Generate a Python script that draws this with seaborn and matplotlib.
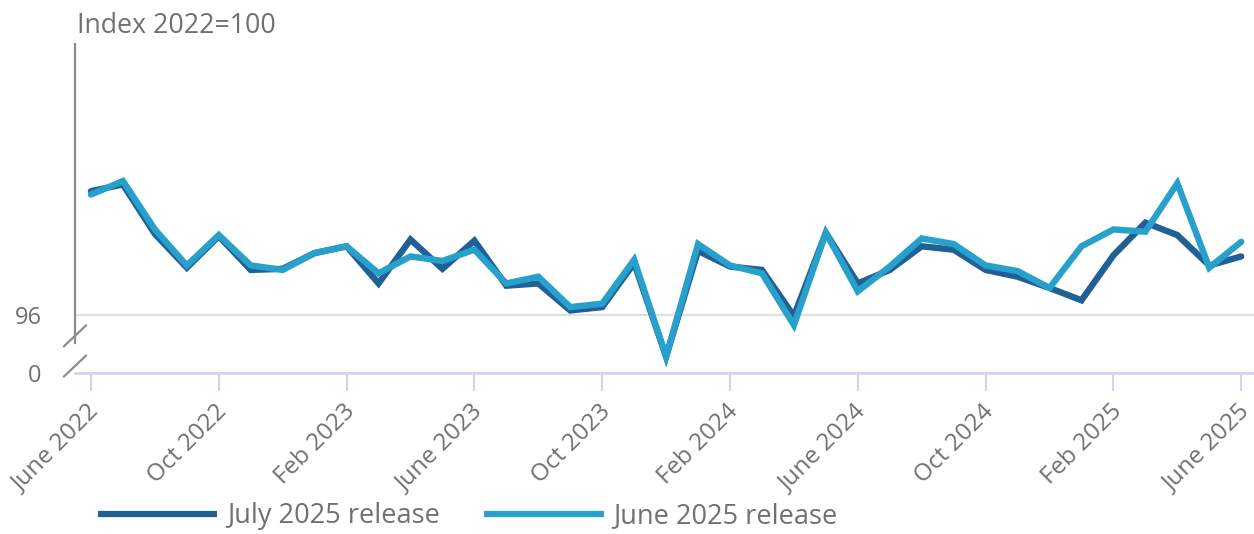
import numpy as np
import pandas as pd
import matplotlib
matplotlib.use("Agg")
import matplotlib.pyplot as plt
import matplotlib.transforms as mtransforms
import seaborn as sns

months = ["Jun 2022", "Jul 2022", "Aug 2022", "Sep 2022", "Oct 2022", "Nov 2022", "Dec 2022",
          "Jan 2023", "Feb 2023", "Mar 2023", "Apr 2023", "May 2023", "Jun 2023", "Jul 2023",
          "Aug 2023", "Sep 2023", "Oct 2023", "Nov 2023", "Dec 2023", "Jan 2024", "Feb 2024",
          "Mar 2024", "Apr 2024", "May 2024", "Jun 2024", "Jul 2024", "Aug 2024", "Sep 2024",
          "Oct 2024", "Nov 2024", "Dec 2024", "Jan 2025", "Feb 2025", "Mar 2025", "Apr 2025",
          "May 2025", "Jun 2025"]

july_2025_release = [101.5, 101.8, 99.6, 98.1, 99.5, 98.0, 98.05, 98.75, 99.05, 97.4,
                     99.35, 98.05, 99.3, 97.3, 97.4, 96.2, 96.35, 98.3, 94.15, 98.85,
                     98.15, 98.0, 95.95, 99.65, 97.4, 98.0, 99.05, 98.9, 98.0, 97.7,
                     97.2, 96.65, 98.65, 100.1, 99.55, 98.2, 98.6]

june_2025_release = [101.35, 101.95, 99.8, 98.2, 99.55, 98.2, 98.0, 98.75, 99.05, 97.85,
                     98.6, 98.4, 98.9, 97.4, 97.7, 96.35, 96.5, 98.45, 94.15, 99.15,
                     98.2, 97.85, 95.55, 99.65, 97.05, 98.15, 99.4, 99.15, 98.2, 97.95,
                     97.2, 99.05, 99.8, 99.7, 101.85, 98.1, 99.25]

tick_labels = ["June 2022", "Oct 2022", "Feb 2023", "June 2023", "Oct 2023", "Feb 2024",
               "June 2024", "Oct 2024", "Feb 2025", "June 2025"]

series_names = ["July 2025 release", "June 2025 release"]
colors = ["#206095", "#27a0cc"]

# ---- build frame ----
idx = np.arange(len(months))
df = pd.concat([
    pd.DataFrame({"i": idx, "value": july_2025_release, "series": series_names[0]}),
    pd.DataFrame({"i": idx, "value": june_2025_release, "series": series_names[1]}),
])

sns.set_theme(style="white")
plt.rcParams["font.family"] = ["Open Sans", "DejaVu Sans"]
TEXT = "#707070"
AXIS_BLUE = "#cdd6ee"

W, H = 1254, 534
fig = plt.figure(figsize=(W / 100, H / 100), dpi=100)
ax = fig.add_axes([75 / W, 1 - 373 / H, (W - 75) / W, (373 - 44) / H])

sns.lineplot(data=df, x="i", y="value", hue="series", palette=colors,
             linewidth=4.6, ax=ax, legend=False, sort=False)
for ln in ax.get_lines():
    ln.set_solid_joinstyle("miter")

GRID_VAL = 96
BREAK_GAP = 2.58  # visual gap between the 0 baseline and 96
ymin = GRID_VAL - BREAK_GAP
ax.set_ylim(ymin, 108.04)
ax.set_xlim(-0.5, 36.4)

ax.set_yticks([ymin, GRID_VAL])
ax.set_yticklabels(["0", "96"])
ax.tick_params(axis="y", left=False, length=0, pad=24, labelsize=17, labelcolor=TEXT)
ax.axhline(GRID_VAL, color="#e0e0e0", lw=1.6, zorder=0)

ax.set_xticks(idx[::4])
ax.set_xticklabels(tick_labels, rotation=45, ha="right", va="center",
                   rotation_mode="anchor")
ax.tick_params(axis="x", bottom=True, direction="out", length=13, width=1.5,
               color=AXIS_BLUE, labelsize=17.5, labelcolor=TEXT, pad=10)
shift = mtransforms.ScaledTranslation(5 / 100, -3 / 100, fig.dpi_scale_trans)
for lab in ax.get_xticklabels():
    lab.set_transform(lab.get_transform() + shift)
ax.set_xlabel("")
ax.set_ylabel("")

for s in ["top", "right"]:
    ax.spines[s].set_visible(False)
ax.spines["bottom"].set_color(AXIS_BLUE)
ax.spines["bottom"].set_linewidth(2)
ax.spines["left"].set_color("#8c8c8c")
ax.spines["left"].set_linewidth(1.6)
ax.spines["left"].set_bounds(94.76, 108.04)

# axis break marks
for yb in [95.07, 93.73]:
    ax.plot([-0.85, -0.15], [yb - 0.47, yb + 0.47], color="#8c8c8c", lw=1.6,
            transform=ax.transData, clip_on=False)

fig.text(77 / W, 1 - 26 / H, "Index 2022=100", fontsize=19.3, color=TEXT,
         va="center", ha="left")

handles = [plt.Line2D([], [], color=c, lw=4.5, solid_capstyle="butt") for c in colors]
fig.legend(handles, series_names, loc="center left",
           bbox_to_anchor=(98 / W, 1 - 516 / H), ncol=2, frameon=False,
           fontsize=19.5, handlelength=4.4, handletextpad=0.37, columnspacing=1.64,
           borderpad=0, borderaxespad=0, labelcolor=TEXT)

fig.savefig("out.png", dpi=100)
